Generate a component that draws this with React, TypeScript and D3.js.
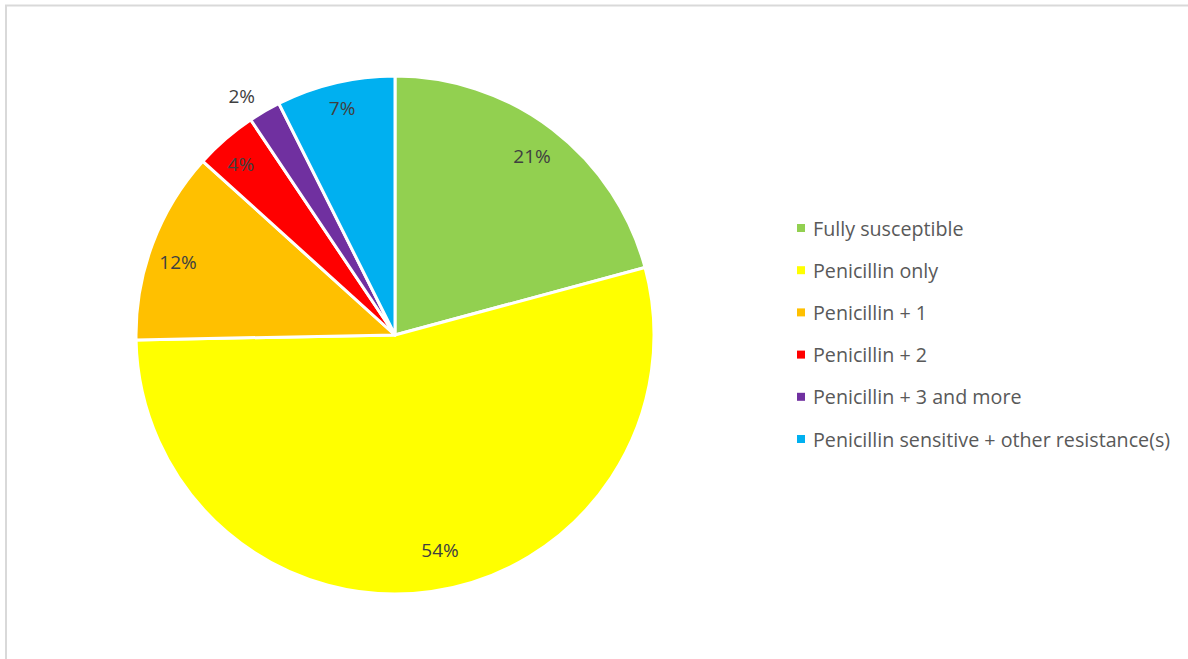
import React from "react";
import * as d3 from "d3";

const categories = [
  "Fully susceptible",
  "Penicillin only",
  "Penicillin + 1",
  "Penicillin + 2",
  "Penicillin + 3 and more",
  "Penicillin sensitive + other resistance(s)",
];
const values = [20.8, 53.9, 12.0, 3.9, 2.0, 7.4];
const labels = ["21%", "54%", "12%", "4%", "2%", "7%"];
const colors = ["#92d050", "#ffff00", "#ffc000", "#ff0000", "#7030a0", "#00b0f0"];
const labelRadiusFactor = [0.87, 0.85, 0.884, 0.89, 1.097, 0.9];
const labelAngleOffsetDeg = [0, -3.7, -1.9, -1.1, -2.4, 0.2];

export default function App() {
  const W = 1188, H = 659;
  const cx = 395, cy = 335, r = 259;
  const pie = d3.pie<number>().sort(null).value((d) => d)(values);
  const arc = d3.arc<d3.PieArcDatum<number>>().innerRadius(0).outerRadius(r);
  const font = "'Open Sans', sans-serif";
  return (
    <div style={{ position: "fixed", left: 0, top: 0, width: W, height: H, background: "#fff" }}>
      <svg width={W} height={H} style={{ display: "block" }}>
        <rect x={6} y={5.5} width={W + 10} height={H + 10} fill="#fff" stroke="#d9d9d9" strokeWidth={2} />
        <g transform={`translate(${cx},${cy})`}>
          {pie.map((p, i) => (
            <path key={i} d={arc(p) || ""} fill={colors[i]} stroke="#fff" strokeWidth={3} strokeLinejoin="round" />
          ))}
          {pie.map((p, i) => {
            const a = (p.startAngle + p.endAngle) / 2 + (labelAngleOffsetDeg[i] * Math.PI) / 180;
            const rr = r * labelRadiusFactor[i];
            return (
              <text
                key={i}
                x={Math.sin(a) * rr}
                y={-Math.cos(a) * rr}
                textAnchor="middle"
                dominantBaseline="central"
                fontFamily={font}
                fontSize={19}
                fill="#404040"
              >
                {labels[i]}
              </text>
            );
          })}
        </g>
        <g>
          {categories.map((c, i) => {
            const y = 228 + i * 42.2;
            return (
              <g key={i}>
                <rect x={797} y={y - 4} width={8} height={8} fill={colors[i]} />
                <text x={813} y={y} dominantBaseline="central" fontFamily={font} fontSize={19.7} fill="#595959">
                  {c}
                </text>
              </g>
            );
          })}
        </g>
      </svg>
    </div>
  );
}
